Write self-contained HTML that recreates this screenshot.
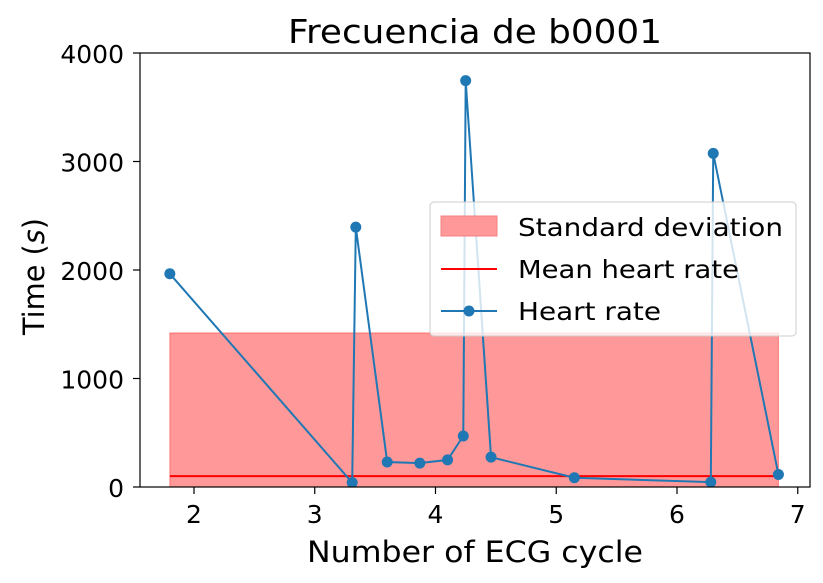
<!DOCTYPE html>
<html><head><meta charset="utf-8"><style>
html,body{margin:0;padding:0;background:#fff;overflow:hidden;width:823px;height:583px;}
svg{display:block;}
svg text{font-family:"DejaVu Sans","Liberation Sans",sans-serif;fill:#000;}
</style></head><body>
<svg id="chart" width="823" height="583" xmlns="http://www.w3.org/2000/svg">
<defs><clipPath id="clip"><rect x="140" y="53" width="670" height="434"/></clipPath></defs>
<g id="plot" clip-path="url(#clip)"></g>
<rect x="140" y="53" width="670" height="434" fill="none" stroke="#000" stroke-width="1.2"/>
<g id="axes"></g>
<text x="288" y="43" font-size="33" textLength="374" lengthAdjust="spacingAndGlyphs">Frecuencia de b0001</text>
<text x="307" y="562" font-size="29" textLength="336" lengthAdjust="spacingAndGlyphs">Number of ECG cycle</text>
<text transform="translate(44,335) rotate(-90)" font-size="29" textLength="117" lengthAdjust="spacingAndGlyphs">Time (<tspan font-style="italic">s</tspan>)</text>
<g>
<rect x="430" y="202" width="366" height="134" rx="4" fill="#fff" fill-opacity="0.8" stroke="#ccc"/>
<rect x="441" y="216" width="56" height="20" fill="#ff9999" stroke="#f08080"/>
<text x="518" y="236" font-size="25" textLength="265" lengthAdjust="spacingAndGlyphs">Standard deviation</text>
<line x1="441" y1="269" x2="497" y2="269" stroke="#ff0000" stroke-width="2"/>
<text x="518" y="278" font-size="25" textLength="221" lengthAdjust="spacingAndGlyphs">Mean heart rate</text>
<line x1="441" y1="311" x2="497" y2="311" stroke="#1f77b4" stroke-width="2"/>
<circle cx="469" cy="311" r="5.5" fill="#1f77b4"/>
<text x="518" y="320" font-size="25" textLength="143" lengthAdjust="spacingAndGlyphs">Heart rate</text>
</g>
</svg>
<script>
const cycles=[1.80,3.31,3.34,3.60,3.87,4.10,4.23,4.25,4.46,5.15,6.28,6.30,6.84];
const times=[1965,40,2395,230,220,250,470,3745,275,85,45,3075,115];
const meanRate=[100];
const stdBand=[-1220,1420];
const xTicks=[2,3,4,5,6,7];
const yTicks=[0,1000,2000,3000,4000];
const NS="http://www.w3.org/2000/svg";
const sx=v=>194+(v-2)*120.75;
const sy=v=>487-v*0.1085;
function mk(tag,attrs,parent){const e=document.createElementNS(NS,tag);for(const k in attrs)e.setAttribute(k,attrs[k]);parent.appendChild(e);return e;}
const plot=document.getElementById('plot'),axes=document.getElementById('axes');
const x0=sx(Math.min(...cycles)),x1=sx(Math.max(...cycles));
let b=mk('rect',{x:x0,y:sy(stdBand[1]),width:x1-x0,height:sy(stdBand[0])-sy(stdBand[1]),fill:'#ff0000','fill-opacity':0.4,stroke:'#ff0000','stroke-opacity':0.4},plot);


let m=mk('line',{x1:x0,x2:x1,y1:sy(meanRate[0]),y2:sy(meanRate[0]),stroke:'#ff0000','stroke-width':2},plot);


let l=mk('polyline',{points:cycles.map((c,i)=>sx(c)+','+sy(times[i])).join(' '),fill:'none',stroke:'#1f77b4','stroke-width':2},plot);


cycles.forEach((c,i)=>{let p=mk('circle',{cx:sx(c),cy:sy(times[i]),r:5.5,fill:'#1f77b4'},plot);

});
xTicks.forEach(t=>{mk('line',{x1:sx(t),x2:sx(t),y1:487,y2:494,stroke:'#000','stroke-width':1.2},axes);
let tx=mk('text',{x:sx(t),y:523,'font-size':25,'text-anchor':'middle'},axes);tx.textContent=t;

});
yTicks.forEach(t=>{mk('line',{x1:133,x2:140,y1:sy(t),y2:sy(t),stroke:'#000','stroke-width':1.2},axes);
let tx=mk('text',{x:124,y:sy(t)+10,'font-size':25,'text-anchor':'end'},axes);tx.textContent=t;

});
</script>
</body></html>
